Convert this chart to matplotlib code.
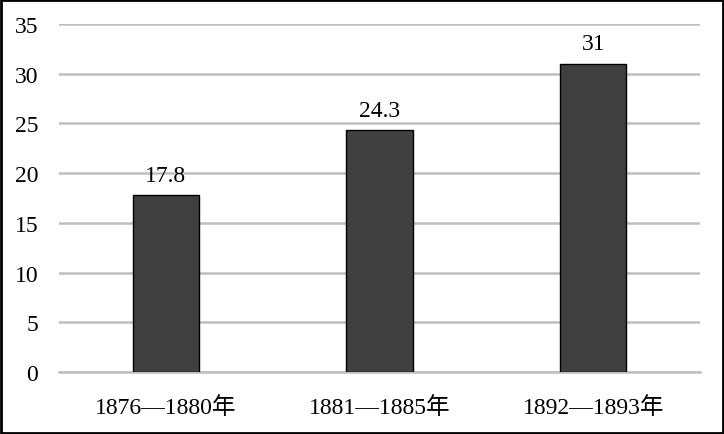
import matplotlib
matplotlib.use("Agg")
import matplotlib.pyplot as plt
from matplotlib.patches import Rectangle

categories = ["1876—1880年", "1881—1885年", "1892—1893年"]
values = [17.8, 24.3, 31]
yticks = [0, 5, 10, 15, 20, 25, 30, 35]

plt.rcParams['font.family'] = ['Liberation Serif', 'Noto Sans CJK SC']

fig = plt.figure(figsize=(7.24, 4.35), dpi=100)
ax = fig.add_axes([0.0815, 0.1425, 0.8855, 0.80])

x = range(len(categories))
bars = ax.bar(x, values, width=0.31, color='#404040', edgecolor='black', linewidth=1.0, zorder=3)
for b, v in zip(bars, values):
    ax.text(b.get_x() + b.get_width() / 2, v + 0.95, f"{v:g}", ha='center', va='bottom',
            fontsize=17, color='black')

ax.set_xlim(-0.5, len(categories) - 0.5)
ax.set_ylim(0, 35)
ax.set_yticks(yticks)
ax.set_xticks(list(x))
ax.set_xticklabels(categories, fontsize=17)
ax.yaxis.grid(True, color='#BFBFBF', linewidth=1.8, zorder=0)
ax.set_axisbelow(True)
for s in ['top', 'right', 'left']:
    ax.spines[s].set_visible(False)
ax.spines['bottom'].set_color('#BFBFBF')
ax.spines['bottom'].set_linewidth(1.8)
ax.tick_params(axis='both', length=0, colors='black')
ax.tick_params(axis='y', pad=15, labelsize=17)
ax.tick_params(axis='x', pad=17)

fig.patches.append(Rectangle((0.002, 0.003), 0.996, 0.994, transform=fig.transFigure,
                             fill=False, edgecolor='black', linewidth=2.0))

fig.savefig("out.png", dpi=100, facecolor='white')
